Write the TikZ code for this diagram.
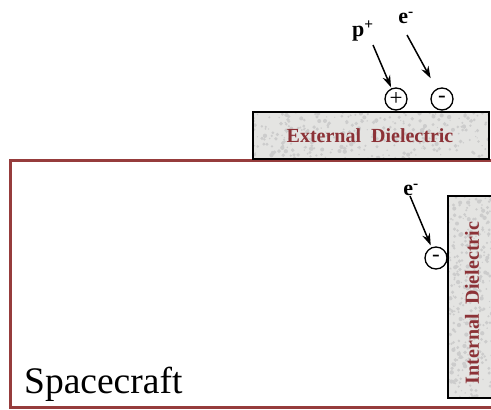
\documentclass[tikz,border=0pt]{standalone}
\usepackage{fontspec}
\setmainfont{Liberation Serif}
\usetikzlibrary{arrows.meta}
\definecolor{hull}{RGB}{150,60,60}
\definecolor{dtext}{RGB}{140,50,55}
\definecolor{dfill}{RGB}{228,228,226}
\tikzset{
  charge/.style={circle,draw=black,line width=1.3pt,minimum size=22pt,inner sep=0pt,font=\fontsize{23}{23}\selectfont},
  particle/.style={inner sep=0pt,font=\fontsize{22}{22}\selectfont\bfseries},
  arr/.style={line width=1.5pt,-{Stealth[length=12pt,width=8pt]}},
  dlabel/.style={text=dtext,font=\fontsize{20}{20}\selectfont\bfseries,inner sep=0pt},
}
\newcommand{\speckle}[4]{%
  \begin{scope}
  \clip (#1,#2) rectangle (#3,#4);
  \fill[dfill] (#1,#2) rectangle (#3,#4);
  \pgfmathsetseed{7}
  \foreach \k in {1,...,320}{
    \pgfmathsetmacro{\px}{#1+rnd*(#3-#1)}
    \pgfmathsetmacro{\py}{#2+rnd*(#4-#2)}
    \pgfmathsetmacro{\pr}{0.6+rnd*1.6}
    \fill[gray!40] (\px,\py) circle[radius=\pr];
  }
  \end{scope}}
\begin{document}
\begin{tikzpicture}[x=1pt,y=-1pt]
\useasboundingbox (0,0) rectangle (491,410);
\clip (0,0) rectangle (491,410);
% spacecraft hull
\draw[hull,line width=3pt] (500,160) -- (10,160) -- (10,407) -- (500,407);
\node[anchor=base west,inner sep=0pt,font=\fontsize{37.5}{37.5}\selectfont] (sc) at (24,393) {Spacecraft};
% external dielectric
\speckle{253}{112}{489}{159}
\draw[line width=1.6pt] (253,112) rectangle (489,159);
\node[dlabel] (ext) at (370,136) {External\ \ Dielectric};
% internal dielectric
\speckle{448}{196}{492}{398}
\draw[line width=1.6pt] (448,196) rectangle (492,398);
\node[dlabel,rotate=90] (int) at (472,303) {Internal\ \ Dielectric};
% charges
\node[charge] (plus) at (396,99) {+};
\node[charge] (minus) at (442,99) {-};
\node[charge] (imin) at (436,258) {-};
% particles
\node[particle] (p) at (363,31) {p\textsuperscript{+}};
\node[particle] (e1) at (406,18) {e\textsuperscript{-}};
\node[particle] (e2) at (411,190) {e\textsuperscript{-}};
\coordinate (ps) at (373,45);
\coordinate (e1s) at (407,35);
\coordinate (e2s) at (410,196);
\draw[arr,shorten >=1pt] (ps) -- (plus);
\draw[arr,shorten >=12pt] (e1s) -- (minus);
\draw[arr,shorten >=2pt] (e2s) -- (imin);
\end{tikzpicture}
\end{document}
